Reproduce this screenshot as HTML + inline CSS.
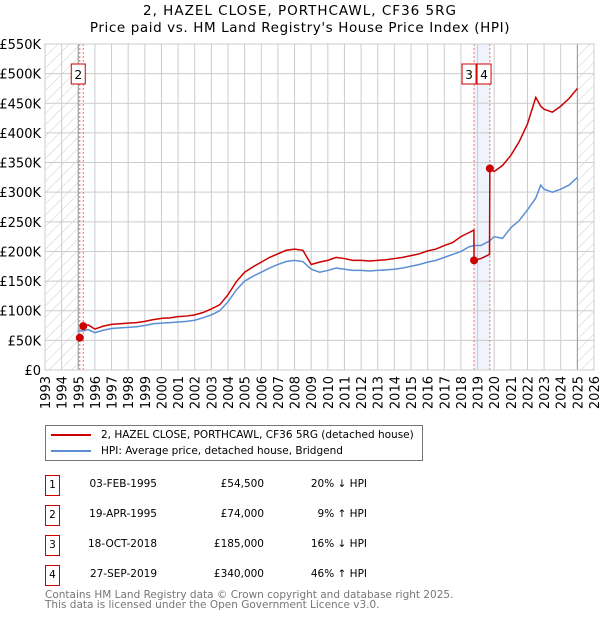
<!DOCTYPE html>
<html><head><meta charset="utf-8"><style>
body{margin:0;background:#fff;width:600px;height:620px;overflow:hidden;font-family:"DejaVu Sans","Liberation Sans",sans-serif}
svg text{font-family:"DejaVu Sans","Liberation Sans",sans-serif}
</style></head><body>
<svg id="c" width="600" height="620"></svg>
<script>
const years=[1995.0,1995.3,1995.6,1996,1996.5,1997,1997.5,1998,1998.5,1999,1999.5,2000,2000.5,2001,2001.5,2002,2002.5,2003,2003.5,2004,2004.5,2005,2005.5,2006,2006.5,2007,2007.5,2008,2008.5,2009,2009.5,2010,2010.5,2011,2011.5,2012,2012.5,2013,2013.5,2014,2014.5,2015,2015.5,2016,2016.5,2017,2017.5,2018,2018.5,2018.8,2019.2,2019.74,2020,2020.5,2021,2021.5,2022,2022.5,2022.8,2023,2023.5,2024,2024.5,2025];
const hpi=[66,66,68,63,67,70,71,72,73,75,78,79,80,81,82,84,88,93,100,115,135,150,158,165,172,178,183,185,183,170,165,168,172,170,168,168,167,168,169,170,172,175,178,182,185,190,195,200,208,210,210,218,225,222,240,252,270,290,312,305,300,305,312,325];
const saleYears=[1995.09,1995.30,2018.79,2019.74];
const salePrices=[54.5,74,185,340];
const redYears=[1995.3,1995.6,1996,1996.5,1997,1997.5,1998,1998.5,1999,1999.5,2000,2000.5,2001,2001.5,2002,2002.5,2003,2003.5,2004,2004.5,2005,2005.5,2006,2006.5,2007,2007.5,2008,2008.5,2009,2009.5,2010,2010.5,2011,2011.5,2012,2012.5,2013,2013.5,2014,2014.5,2015,2015.5,2016,2016.5,2017,2017.5,2018,2018.5,2018.78,2018.79,2019.2,2019.72,2019.74,2020,2020.5,2021,2021.5,2022,2022.5,2022.8,2023,2023.5,2024,2024.5,2025];
const redVals=[74,76,69,74,77,78,79,80,82,85,87,88,90,91,93,97,103,110,127,149,165,174,182,190,196,202,204,202,178,182,185,190,188,185,185,184,185,186,188,190,193,196,201,204,210,215,225,232,236,185,188,195,340,335,345,362,385,415,460,445,440,435,445,458,475];
const yTicks=[0,50,100,150,200,250,300,350,400,450,500,550];
const xTicks=[1993,1994,1995,1996,1997,1998,1999,2000,2001,2002,2003,2004,2005,2006,2007,2008,2009,2010,2011,2012,2013,2014,2015,2016,2017,2018,2019,2020,2021,2022,2023,2024,2025,2026];
const saleLabels=['1','2','3','4'];
const X0=45,X1=594,Y0=370,Y1=44;
const xs=y=>X0+(y-1993)*(X1-X0)/33;
const ys=v=>Y0-v*(Y0-Y1)/550;
const NS='http://www.w3.org/2000/svg',svg=document.getElementById('c');
function el(t,a,p){const e=document.createElementNS(NS,t);for(const k in a)e.setAttribute(k,a[k]);(p||svg).appendChild(e);return e;}
const defs=el('defs',{});
const pat=el('pattern',{id:'h',width:8,height:8,patternUnits:'userSpaceOnUse',patternTransform:'rotate(45)'},defs);
el('line',{x1:0,y1:0,x2:0,y2:8,stroke:'#ccc','stroke-width':1},pat);
let t=el('text',{x:300,y:15,'text-anchor':'middle','font-size':13.5,'letter-spacing':'1'});t.textContent='2, HAZEL CLOSE, PORTHCAWL, CF36 5RG';

t=el('text',{x:300,y:32,'text-anchor':'middle','font-size':13.5,'letter-spacing':'0.6'});t.textContent="Price paid vs. HM Land Registry's House Price Index (HPI)";

let r=el('rect',{x:X0,y:Y1,width:xs(1995)-X0,height:Y0-Y1,fill:'url(#h)'});

r=el('rect',{x:xs(2025.0),y:Y1,width:X1-xs(2025.0),height:Y0-Y1,fill:'url(#h)'});

r=el('rect',{x:xs(saleYears[2]),y:Y1,width:xs(saleYears[3])-xs(saleYears[2]),height:Y0-Y1,fill:'#eef3fc'});

yTicks.forEach(v=>{const l=el('line',{x1:X0,x2:X1,y1:ys(v),y2:ys(v),stroke:'#ccc'});
 const tt=el('text',{x:X0-4,y:ys(v)+5,'text-anchor':'end','font-size':13});tt.textContent=v==0?'£0':'£'+v+'K';});
xTicks.forEach(y=>{const l=el('line',{x1:xs(y),x2:xs(y),y1:Y1,y2:Y0,stroke:'#ccc'});
 const tt=el('text',{x:0,y:0,'text-anchor':'end','font-size':13,transform:`translate(${xs(y)+5},${Y0+6}) rotate(-90)`});tt.textContent=y;});
let bl=el('line',{x1:xs(1995),x2:xs(1995),y1:Y1,y2:Y0,stroke:'#999'});
bl=el('line',{x1:xs(2025),x2:xs(2025),y1:Y1,y2:Y0,stroke:'#999'});
saleYears.forEach((y,i)=>{const l=el('line',{x1:xs(y),x2:xs(y),y1:Y1,y2:Y0,stroke:'#f07070','stroke-dasharray':'2,2'});});
const hp=el('polyline',{points:years.map((y,i)=>xs(y)+','+ys(hpi[i])).join(' '),fill:'none',stroke:'#5b8fd4','stroke-width':1.5});

const rp=el('polyline',{points:redYears.map((y,i)=>xs(y)+','+ys(redVals[i])).join(' '),fill:'none',stroke:'#cc0000','stroke-width':1.5});

saleYears.forEach((y,i)=>{const c=el('circle',{cx:xs(y),cy:ys(salePrices[i]),r:4,fill:'#cc0000'});});
[[1,1,-5],[2,2,-5],[3,2,10]].forEach(([i,base,dx])=>{const g=el('g',{});
 const cx=xs(saleYears[base])+dx;el('rect',{x:cx-7,y:64,width:14,height:20,fill:'#fff',stroke:'#cc0000'},g);
 const tt=el('text',{x:cx,y:79,'text-anchor':'middle','font-size':12},g);tt.textContent=saleLabels[i];});
el('rect',{x:X0,y:Y1,width:X1-X0,height:Y0-Y1,fill:'none',stroke:'#ccc'});
</script>
<div style="position:absolute;left:45px;top:425px;width:376px;height:34px;border:1px solid #777;font-size:10.5px">
 <div style="position:absolute;left:5px;top:3px;white-space:nowrap"><span style="display:inline-block;width:40px;height:2px;background:#cc0000;vertical-align:middle;margin-right:10px"></span>2, HAZEL CLOSE, PORTHCAWL, CF36 5RG (detached house)</div>
 <div style="position:absolute;left:5px;top:19px;white-space:nowrap"><span style="display:inline-block;width:40px;height:2px;background:#5b8fd4;vertical-align:middle;margin-right:10px"></span>HPI: Average price, detached house, Bridgend</div>
</div>
<div style="position:absolute;left:0;top:0;font-size:10.5px">
 <div style="position:absolute;top:475px;left:45px;width:400px;height:20px">
  <span style="position:absolute;left:0;top:0;width:13px;height:19px;border:1px solid #cc0000;text-align:center;line-height:19px">1</span>
  <span style="position:absolute;right:288px;top:3px">03-FEB-1995</span><span style="position:absolute;right:181px;top:3px">£54,500</span><span style="position:absolute;right:78px;top:3px">20% ↓ HPI</span></div>
 <div style="position:absolute;top:505px;left:45px;width:400px;height:20px">
  <span style="position:absolute;left:0;top:0;width:13px;height:19px;border:1px solid #cc0000;text-align:center;line-height:19px">2</span>
  <span style="position:absolute;right:288px;top:3px">19-APR-1995</span><span style="position:absolute;right:181px;top:3px">£74,000</span><span style="position:absolute;right:78px;top:3px">9% ↑ HPI</span></div>
 <div style="position:absolute;top:535px;left:45px;width:400px;height:20px">
  <span style="position:absolute;left:0;top:0;width:13px;height:19px;border:1px solid #cc0000;text-align:center;line-height:19px">3</span>
  <span style="position:absolute;right:288px;top:3px">18-OCT-2018</span><span style="position:absolute;right:181px;top:3px">£185,000</span><span style="position:absolute;right:78px;top:3px">16% ↓ HPI</span></div>
 <div style="position:absolute;top:565px;left:45px;width:400px;height:20px">
  <span style="position:absolute;left:0;top:0;width:13px;height:19px;border:1px solid #cc0000;text-align:center;line-height:19px">4</span>
  <span style="position:absolute;right:288px;top:3px">27-SEP-2019</span><span style="position:absolute;right:181px;top:3px">£340,000</span><span style="position:absolute;right:78px;top:3px">46% ↑ HPI</span></div>
</div>
<div style="position:absolute;left:45px;top:590px;font-size:10.5px;color:#777;line-height:10px">Contains HM Land Registry data © Crown copyright and database right 2025.<br>This data is licensed under the Open Government Licence v3.0.</div>
</body></html>
